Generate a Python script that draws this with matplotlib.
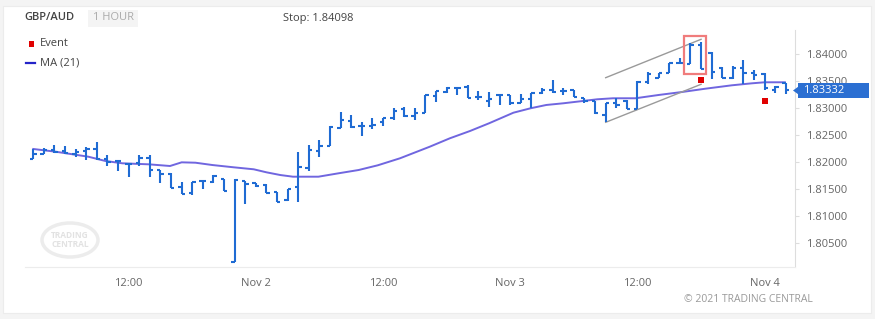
import matplotlib
matplotlib.use("Agg")
import matplotlib.pyplot as plt
from matplotlib.patches import Rectangle, Polygon, Ellipse
from matplotlib.transforms import blended_transform_factory

plt.rcParams["font.family"] = ["Open Sans", "DejaVu Sans"]

# hourly bars, hours counted from Nov 1 00:00 (first bar Nov 1 03:00)
hours = list(range(3, 75))
opens = [1.82050, 1.82143, 1.82228, 1.82204, 1.82150, 1.82204, 1.82241, 1.82056, 1.82013, 1.81969,
         1.81976, 1.82069, 1.81852, 1.81772, 1.81543, 1.81431, 1.81648, 1.81635, 1.81685, 1.80143,
         1.81648, 1.81606, 1.81574, 1.81450, 1.81296, 1.81528, 1.81883, 1.82198, 1.82296, 1.82624,
         1.82759, 1.82667, 1.82667, 1.82746, 1.82809, 1.82980, 1.82852, 1.82902, 1.83222, 1.83291,
         1.83365, 1.83383, 1.83209, 1.83135, 1.83241, 1.83241, 1.83087, 1.83167, 1.83272, 1.83339,
         1.83315, 1.83333, 1.83180, 1.83135, 1.82870, 1.83087, 1.83130, 1.82981, 1.83487, 1.83550,
         1.83643, 1.83828, 1.83815, 1.84167, 1.84024, 1.83735, 1.83550, 1.83735, 1.83643, 1.83630,
         1.83333, 1.83469]
highs = [1.82241, 1.82254, 1.82315, 1.82296, 1.82241, 1.82272, 1.82370, 1.82135, 1.82031, 1.81969,
         1.82130, 1.82130, 1.81861, 1.81791, 1.81630, 1.81630, 1.81654, 1.81754, 1.81685, 1.81685,
         1.81654, 1.81617, 1.81587, 1.81450, 1.81506, 1.82180, 1.82315, 1.82402, 1.82672, 1.82920,
         1.82865, 1.82746, 1.82809, 1.82820, 1.82994, 1.83024, 1.82994, 1.83235, 1.83315, 1.83383,
         1.83383, 1.83426, 1.83315, 1.83302, 1.83254, 1.83241, 1.83259, 1.83272, 1.83376, 1.83519,
         1.83376, 1.83333, 1.83180, 1.83135, 1.83087, 1.83180, 1.83148, 1.83500, 1.83672, 1.83654,
         1.83828, 1.83931, 1.84198, 1.84231, 1.84043, 1.83765, 1.83783, 1.83889, 1.83704, 1.83643,
         1.83413, 1.83469]
lows = [1.82050, 1.82143, 1.82161, 1.82143, 1.82087, 1.82037, 1.82037, 1.81931, 1.81839, 1.81728,
        1.81926, 1.81728, 1.81602, 1.81513, 1.81402, 1.81389, 1.81494, 1.81617, 1.81457, 1.80143,
        1.81217, 1.81543, 1.81420, 1.81265, 1.81283, 1.81265, 1.81839, 1.82098, 1.82296, 1.82624,
        1.82624, 1.82487, 1.82606, 1.82667, 1.82778, 1.82828, 1.82772, 1.82902, 1.83117, 1.83272,
        1.83241, 1.83180, 1.83148, 1.83024, 1.83056, 1.83056, 1.83087, 1.82994, 1.83254, 1.83272,
        1.83241, 1.83209, 1.83087, 1.82894, 1.82735, 1.82994, 1.82976, 1.82981, 1.83439, 1.83550,
        1.83643, 1.83809, 1.83809, 1.83717, 1.83537, 1.83561, 1.83531, 1.83439, 1.83519, 1.83333,
        1.83272, 1.83254]
closes = [1.82143, 1.82228, 1.82185, 1.82161, 1.82191, 1.82241, 1.82050, 1.82000, 1.82024, 1.81969,
          1.82069, 1.81852, 1.81769, 1.81524, 1.81402, 1.81630, 1.81648, 1.81741, 1.81469, 1.81672,
          1.81587, 1.81556, 1.81431, 1.81265, 1.81506, 1.81907, 1.82217, 1.82296, 1.82654, 1.82778,
          1.82654, 1.82667, 1.82685, 1.82809, 1.82950, 1.82852, 1.82902, 1.83235, 1.83315, 1.83365,
          1.83376, 1.83180, 1.83209, 1.83161, 1.83241, 1.83098, 1.83161, 1.83272, 1.83339, 1.83302,
          1.83315, 1.83209, 1.83135, 1.82902, 1.83087, 1.83056, 1.82976, 1.83487, 1.83624, 1.83643,
          1.83828, 1.83828, 1.84167, 1.83717, 1.83667, 1.83561, 1.83735, 1.83643, 1.83611, 1.83365,
          1.83394, 1.83332]

# MA (21)
ma_hours = [3, 5.1, 8.2, 9.8, 11.4, 13.9, 15.9, 17.0, 18.3, 19.9, 21.9, 23.8, 25.0, 26.3, 27.5,
            29.9, 31.8, 33.7, 35.5, 37.6, 40.4, 42.3, 44.2, 46.0, 48.3, 49.9, 51.4, 53.0, 54.6,
            56.2, 57.7, 59.8, 62.0, 64.2, 66.4, 68.9, 70.8, 72.0, 73.9]
ma_values = [1.82241, 1.82191, 1.82098, 1.82019, 1.81976, 1.81957, 1.81926, 1.81994, 1.81987,
             1.81944, 1.81902, 1.81865, 1.81809, 1.81759, 1.81728, 1.81728, 1.81791, 1.81852,
             1.81939, 1.82069, 1.82283, 1.82439, 1.82574, 1.82717, 1.82913, 1.82994, 1.83056,
             1.83087, 1.83124, 1.83161, 1.83180, 1.83180, 1.83241, 1.83296, 1.83357, 1.83420,
             1.83457, 1.83476, 1.83476]

event_hours = [66, 72]
event_prices = [1.83519, 1.83130]

channel_hours = [57, 66]
channel_upper = [1.83561, 1.84272]
channel_lower = [1.82735, 1.83439]

box_hours = [64.4, 66.5]
box_prices = [1.83635, 1.84339]

last_price = 1.83332
stop_price = "1.84098"

xtick_hours = [12, 24, 36, 48, 60, 72]
xtick_labels = ["12:00", "Nov 2", "12:00", "Nov 3", "12:00", "Nov 4"]
ytick_values = [1.805, 1.81, 1.815, 1.82, 1.825, 1.83, 1.835, 1.84]

W, H = 875, 319


def fx(px):
    return px / W


def fy(py):
    return 1 - py / H


fig = plt.figure(figsize=(8.75, 3.19), dpi=100, facecolor="#f4f4f4")
fig.add_artist(Rectangle((fx(3), fy(313)), fx(868), 307 / H, transform=fig.transFigure,
                         facecolor="white", edgecolor="#ececec", lw=0.8, zorder=0))

ax = fig.add_axes([fx(25), fy(267), 770 / W, 237 / H])
ax.set_facecolor("none")

bar_color = "#1f6bd3"
half = 0.32
ax.vlines(hours, lows, highs, color=bar_color, lw=1.5, zorder=3)
ax.hlines(opens, [h - half for h in hours], hours, color=bar_color, lw=1.5, zorder=3)
ax.hlines(closes, hours, [h + half for h in hours], color=bar_color, lw=1.5, zorder=3)

ax.plot(ma_hours, ma_values, color="#4c40d8", lw=1.4, alpha=0.8, zorder=2)

# channel and highlight
ax.plot(channel_hours, channel_upper, color="#9a9a9a", lw=1.0, zorder=2)
ax.plot(channel_hours, channel_lower, color="#9a9a9a", lw=1.0, zorder=2)
ax.add_patch(Rectangle((box_hours[0], box_prices[0]), box_hours[1] - box_hours[0],
                       box_prices[1] - box_prices[0], fill=False, edgecolor="#f07c7c", lw=1.6, zorder=4))
ax.scatter(event_hours, event_prices, marker="s", s=18, color="#e00000", zorder=5, linewidths=0)

ax.set_xlim(2.22, 74.86)
ax.set_ylim(1.80056, 1.84444)

ax.spines["left"].set_visible(False)
ax.spines["top"].set_visible(False)
ax.spines["right"].set_color("#dddddd")
ax.spines["bottom"].set_color("#ececec")

ax.yaxis.tick_right()
ax.set_yticks(ytick_values)
ax.set_yticklabels([f"{v:.5f}" for v in ytick_values])
ax.tick_params(axis="y", length=3, color="#dddddd", labelcolor="#666666", labelsize=8, pad=5)
ax.set_xticks(xtick_hours)
ax.set_xticklabels(xtick_labels)
ax.tick_params(axis="x", length=0, labelcolor="#666666", labelsize=8, pad=8)

# last price tag
fig.add_artist(Rectangle((fx(798), fy(98)), 71 / W, 15 / H, transform=fig.transFigure,
                         facecolor="#2b6fd2", edgecolor="none", zorder=5))
fig.add_artist(Polygon([[fx(793), fy(90.5)], [fx(798.5), fy(86.5)], [fx(798.5), fy(94.5)]],
                       closed=True, transform=fig.transFigure, facecolor="#2b6fd2",
                       edgecolor="none", zorder=5))
fig.text(fx(803), fy(90.5), f"{last_price:.5f}", color="white", fontsize=8, va="center",
         ha="left", zorder=6)

# header
fig.text(fx(24), fy(18), "GBP/AUD", color="#444444", fontsize=8, fontweight="semibold",
         va="center", ha="left")
fig.add_artist(Rectangle((fx(88), fy(27)), 50 / W, 17 / H, transform=fig.transFigure,
                         facecolor="#f4f4f4", edgecolor="none", zorder=1))
fig.text(fx(93), fy(18), "1 HOUR", color="#aaaaaa", fontsize=8, va="center", ha="left", zorder=2)
fig.text(fx(283), fy(18), "Stop: " + stop_price, color="#444444", fontsize=8, va="center", ha="left")

# legend
fig.add_artist(Rectangle((fx(29), fy(46.5)), 5.5 / W, 5.5 / H, transform=fig.transFigure,
                         facecolor="#e00000", edgecolor="none"))
fig.text(fx(40), fy(44), "Event", color="#444444", fontsize=8, va="center", ha="left")
fig.add_artist(plt.Line2D([fx(26), fx(35)], [fy(62.5), fy(62.5)], transform=fig.transFigure,
                          color="#2424c8", lw=1.6))
fig.text(fx(40), fy(63), "MA (21)", color="#444444", fontsize=8, va="center", ha="left")

# watermark + copyright
fig.add_artist(Ellipse((fx(70), fy(240)), 56 / W, 34 / H, transform=fig.transFigure,
                       fill=False, edgecolor="#ececec", lw=2.5))
fig.text(fx(70), fy(240), "TRADING\nCENTRAL", color="#e2e2e2", fontsize=6, fontweight="bold",
         ha="center", va="center", linespacing=0.9)
fig.text(fx(813), fy(299), "\u00a9 2021 TRADING CENTRAL", color="#999999", fontsize=7.5,
         ha="right", va="center")

fig.savefig("out.png", dpi=100, facecolor=fig.get_facecolor())
